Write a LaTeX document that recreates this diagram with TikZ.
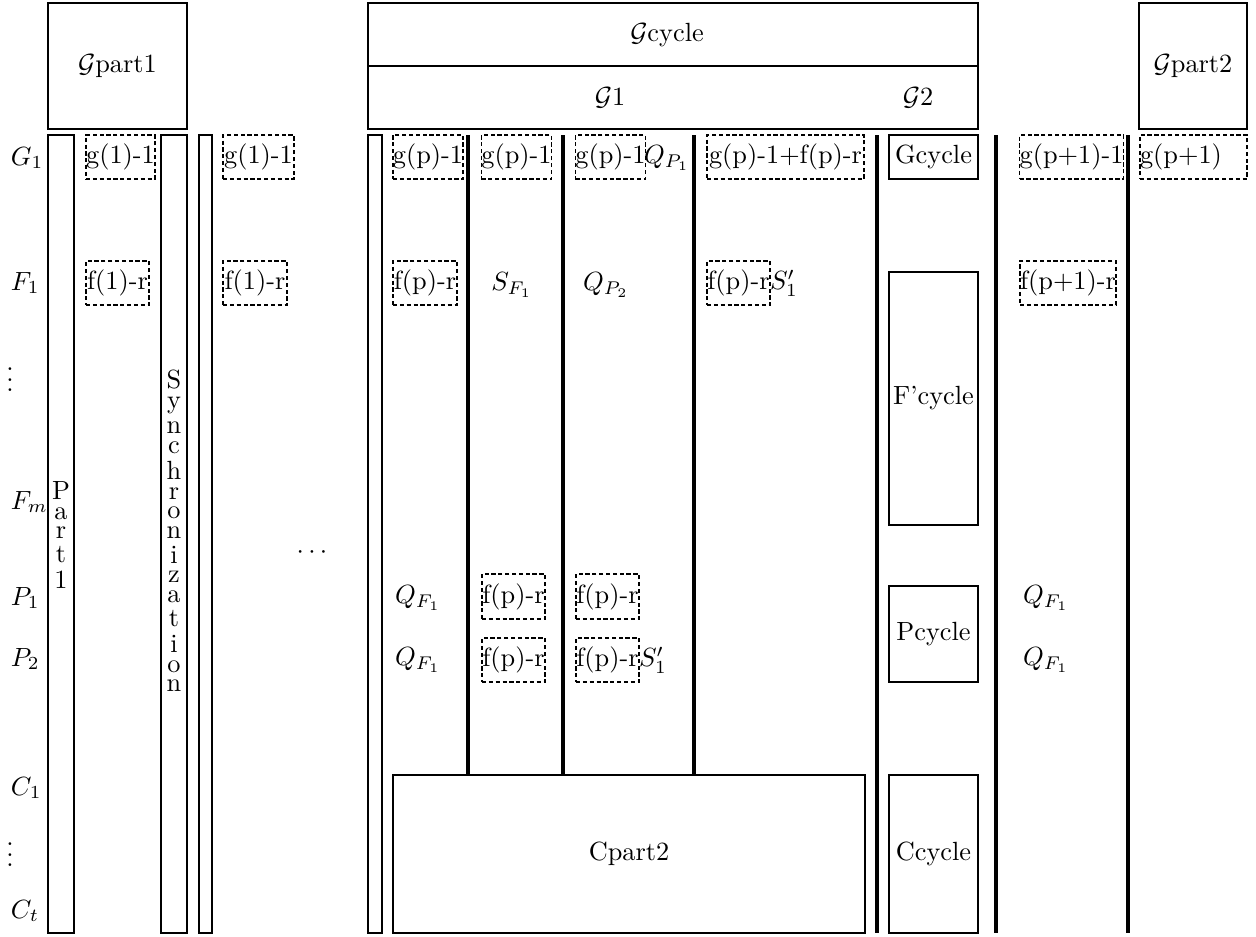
\documentclass[tikz,border=0pt]{standalone}
\newdimen\pxu \pxu=0.38pt
\tikzset{
  every node/.style={inner sep=0pt, outer sep=0pt},
  solidbox/.style={draw, line width=0.8pt},
  dashbox/.style={draw, line width=0.65pt, dash pattern=on 1.6pt off 1pt},
  divider/.style={line width=1.3pt},
  lbl/.style={anchor=center},
}
% \pbox{style}{name}{x1}{y1}{x2}{y2}{text}
\newcommand\pbox[7]{\node[#1,minimum width={(#5-#3)*\pxu},minimum height={(#6-#4)*\pxu}] (#2) at ({(#3+#5)/2},{(#4+#6)/2}) {#7};}
\begin{document}
\begin{tikzpicture}[x=\pxu,y=-\pxu]
\useasboundingbox (0,0) rectangle (1256,936);

% headers
\pbox{solidbox}{gpart1}{48}{3}{187}{129}{$\mathcal{G}$part1}
\pbox{solidbox}{gcyc}{368}{3}{978}{66}{}
\pbox{solidbox}{gsub}{368}{66}{978}{129}{}
\pbox{solidbox}{gpart2}{1139}{3}{1247}{129}{$\mathcal{G}$part2}
\node[lbl] (gcyclbl) at (667,35) {$\mathcal{G}$cycle};
\node[lbl] (g1lbl) at (610,98) {$\mathcal{G}$1};
\node[lbl] (g2lbl) at (918,98) {$\mathcal{G}$2};

% row labels
\node[anchor=west] (rG1) at (11,158) {$G_1$};
\node[anchor=west] (rF1) at (11,283) {$F_1$};
\node[lbl] (rv1) at (10,372) {$\vdots$};
\node[anchor=west] (rFm) at (11,502) {$F_m$};
\node[anchor=west] (rP1) at (11,598) {$P_1$};
\node[anchor=west] (rP2) at (11,659) {$P_2$};
\node[anchor=west] (rC1) at (11,788) {$C_1$};
\node[lbl] (rv2) at (10,847) {$\vdots$};
\node[anchor=west] (rCt) at (11,911) {$C_t$};

% tall columns
\pbox{solidbox}{part1}{48}{135}{74}{933}{}
\pbox{solidbox}{sync}{161}{135}{187}{933}{}
\pbox{solidbox}{thinA}{199}{135}{212}{933}{}
\pbox{solidbox}{thinB}{368}{135}{382}{933}{}
\node[lbl] (part1lbl) at (61,535) {\shortstack{P\\a\\r\\t\\1}};
\node[lbl] (synclbl) at (174,531) {\shortstack{S\\y\\n\\c\\h\\r\\o\\n\\i\\z\\a\\t\\i\\o\\n}};
\node[lbl] (dots) at (312,553) {$\cdots$};

% G_1 row
\pbox{dashbox}{a1}{86}{135}{155}{179}{g(1)-1}
\pbox{dashbox}{a2}{223}{135}{294}{179}{g(1)-1}
\pbox{dashbox}{a3}{393}{135}{463}{179}{g(p)-1}
\pbox{dashbox}{a4}{482}{135}{551}{179}{g(p)-1}
\pbox{dashbox}{a5}{576}{135}{645}{179}{g(p)-1}
\node[anchor=west] (qp1) at (644,158) {$Q_{P_1}$};
\pbox{dashbox}{a6}{707}{135}{864}{179}{g(p)-1+f(p)-r}
\pbox{solidbox}{gcycle}{889}{135}{978}{179}{Gcycle}
\pbox{dashbox}{a7}{1020}{135}{1123}{179}{g(p+1)-1}
\pbox{dashbox}{a8}{1140}{135}{1247}{179}{\makebox[\dimexpr107\pxu][l]{g(p+1)}}

% F_1 row
\pbox{dashbox}{b1}{86}{261}{149}{305}{f(1)-r}
\pbox{dashbox}{b2}{223}{261}{287}{305}{f(1)-r}
\pbox{dashbox}{b3}{393}{261}{457}{305}{f(p)-r}
\node[lbl] (sf1) at (512,285) {$S_{F_1}$};
\node[lbl] (qp2) at (606,285) {$Q_{P_2}$};
\pbox{dashbox}{b4}{707}{261}{770}{305}{f(p)-r}
\node[anchor=west] (s1a) at (770,283) {$S'_1$};
\pbox{dashbox}{b5}{1020}{261}{1116}{305}{f(p+1)-r}

% cycle column
\pbox{solidbox}{fcycle}{889}{272}{978}{525}{F'cycle}
\pbox{solidbox}{pcycle}{889}{586}{978}{682}{Pcycle}
\pbox{solidbox}{ccycle}{889}{775}{978}{933}{Ccycle}

% P rows
\node[lbl] (qf1a) at (418,598) {$Q_{F_1}$};
\node[lbl] (qf1b) at (418,660) {$Q_{F_1}$};
\pbox{dashbox}{c1}{482}{574}{545}{619}{f(p)-r}
\pbox{dashbox}{c2}{576}{574}{639}{619}{f(p)-r}
\pbox{dashbox}{d1}{482}{638}{545}{682}{f(p)-r}
\pbox{dashbox}{d2}{576}{638}{639}{682}{f(p)-r}
\node[anchor=west] (s1b) at (639,660) {$S'_1$};
\node[lbl] (qf1c) at (1046,598) {$Q_{F_1}$};
\node[lbl] (qf1d) at (1046,660) {$Q_{F_1}$};

% bottom block
\pbox{solidbox}{cpart2}{393}{775}{865}{933}{Cpart2}

% dividers
\coordinate (v1t) at (468,135); \coordinate (v1b) at (468,775);
\coordinate (v2t) at (563,135); \coordinate (v2b) at (563,775);
\coordinate (v3t) at (694,135); \coordinate (v3b) at (694,775);
\coordinate (v4t) at (877,135); \coordinate (v4b) at (877,933);
\coordinate (v5t) at (996,135); \coordinate (v5b) at (996,933);
\coordinate (v6t) at (1128,135); \coordinate (v6b) at (1128,933);
\draw[divider] (v1t) -- (v1b);
\draw[divider] (v2t) -- (v2b);
\draw[divider] (v3t) -- (v3b);
\draw[divider] (v4t) -- (v4b);
\draw[divider] (v5t) -- (v5b);
\draw[divider] (v6t) -- (v6b);
\end{tikzpicture}
\end{document}
